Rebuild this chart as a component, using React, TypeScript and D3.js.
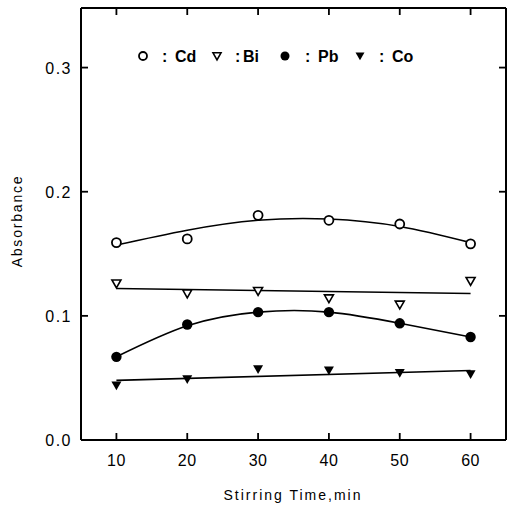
import React from "react";
import * as d3 from "d3";

const times = [10, 20, 30, 40, 50, 60];
const cd = [0.159, 0.162, 0.181, 0.177, 0.174, 0.158];
const bi = [0.126, 0.118, 0.12, 0.114, 0.109, 0.128];
const pb = [0.067, 0.093, 0.103, 0.103, 0.094, 0.083];
const co = [0.044, 0.049, 0.057, 0.056, 0.054, 0.053];

const cdFit = [0.157, 0.169, 0.177, 0.178, 0.172, 0.159];
const pbFit = [0.067, 0.092, 0.103, 0.103, 0.094, 0.083];
const lineTimes = [10, 60];
const biFit = [0.122, 0.118];
const coFit = [0.048, 0.056];

const xTicks = [10, 20, 30, 40, 50, 60];
const yTicks = [0.0, 0.1, 0.2, 0.3];

const W = 507, H = 508;
const L = 81, R = 506, T = 8, B = 440;

export default function App() {
  const x = d3.scaleLinear().domain([5, 65]).range([L, R]);
  const y = d3.scaleLinear().domain([0, 0.348]).range([B, T]);
  const smooth = d3.line<[number, number]>().x(d => x(d[0])).y(d => y(d[1])).curve(d3.curveNatural);
  const straight = d3.line<[number, number]>().x(d => x(d[0])).y(d => y(d[1]));
  const pts = (vals: number[], xs = times) => xs.map((t, i) => [t, vals[i]] as [number, number]);

  const tri = (cx: number, cy: number, s: number) =>
    `M${cx - s},${cy - s * 0.8}L${cx + s},${cy - s * 0.8}L${cx},${cy + s * 0.95}Z`;

  const font = "Arial, 'Liberation Sans', sans-serif";

  return (
    <svg width={W} height={H} style={{ position: "absolute", left: 0, top: 0, background: "#fff" }}>
      <rect width={W} height={H} fill="#fff" />
      <g stroke="#000" strokeWidth={2} fill="none">
        <line x1={L} y1={T} x2={R} y2={T} />
        <line x1={L} y1={B} x2={R} y2={B} />
        <line x1={L} y1={T} x2={L} y2={B} />
        <line x1={R} y1={T} x2={R} y2={B} />
      </g>
      {xTicks.map(t => (
        <g key={"x" + t}>
          <line x1={x(t)} x2={x(t)} y1={B} y2={B - 7} stroke="#000" strokeWidth={1.8} />
          <line x1={x(t)} x2={x(t)} y1={T} y2={T + 7} stroke="#000" strokeWidth={1.8} />
          <text x={x(t)} y={466} textAnchor="middle" fontFamily={font} fontSize={16} letterSpacing={0.5}>{t}</text>
        </g>
      ))}
      {yTicks.map(t => (
        <g key={"y" + t}>
          <line x1={L} x2={L + 7} y1={y(t)} y2={y(t)} stroke="#000" strokeWidth={1.8} />
          <line x1={R} x2={R - 7} y1={y(t)} y2={y(t)} stroke="#000" strokeWidth={1.8} />
          <text x={72} y={y(t) + 6} textAnchor="end" fontFamily={font} fontSize={16} letterSpacing={1.5}>{t.toFixed(1)}</text>
        </g>
      ))}
      <text transform={`translate(22,221) rotate(-90)`} textAnchor="middle" fontFamily={font} fontSize={14} letterSpacing={1.8}>Absorbance</text>
      <text x={293} y={500} textAnchor="middle" fontFamily={font} fontSize={14} letterSpacing={2}>Stirring Time,min</text>

      <g fill="none" stroke="#000" strokeWidth={1.6}>
        <path d={smooth(pts(cdFit)) || ""} />
        <path d={smooth(pts(pbFit)) || ""} />
        <path d={straight(pts(biFit, lineTimes)) || ""} />
        <path d={straight(pts(coFit, lineTimes)) || ""} />
      </g>

      {times.map((t, i) => (
        <g key={"m" + t}>
          <circle cx={x(t)} cy={y(cd[i])} r={4.5} fill="#fff" stroke="#000" strokeWidth={1.8} />
          <path d={tri(x(t), y(bi[i]), 4.5)} fill="#fff" stroke="#000" strokeWidth={1.6} />
          <circle cx={x(t)} cy={y(pb[i])} r={5.2} fill="#000" />
          <path d={tri(x(t), y(co[i]), 5)} fill="#000" />
        </g>
      ))}

      <g fontFamily={font} fontSize={16} fontWeight="bold">
        <circle cx={143} cy={56} r={4} fill="#fff" stroke="#000" strokeWidth={1.8} />
        <text x={162} y={62}>:</text>
        <text x={175} y={62}>Cd</text>
        <path d={tri(217, 56, 4)} fill="#fff" stroke="#000" strokeWidth={1.6} />
        <text x={235} y={62}>:</text>
        <text x={243} y={62}>Bi</text>
        <circle cx={285} cy={56} r={4.5} fill="#000" />
        <text x={305} y={62}>:</text>
        <text x={318} y={62}>Pb</text>
        <path d={tri(360, 56, 4.5)} fill="#000" />
        <text x={379} y={62}>:</text>
        <text x={392} y={62}>Co</text>
      </g>
    </svg>
  );
}
